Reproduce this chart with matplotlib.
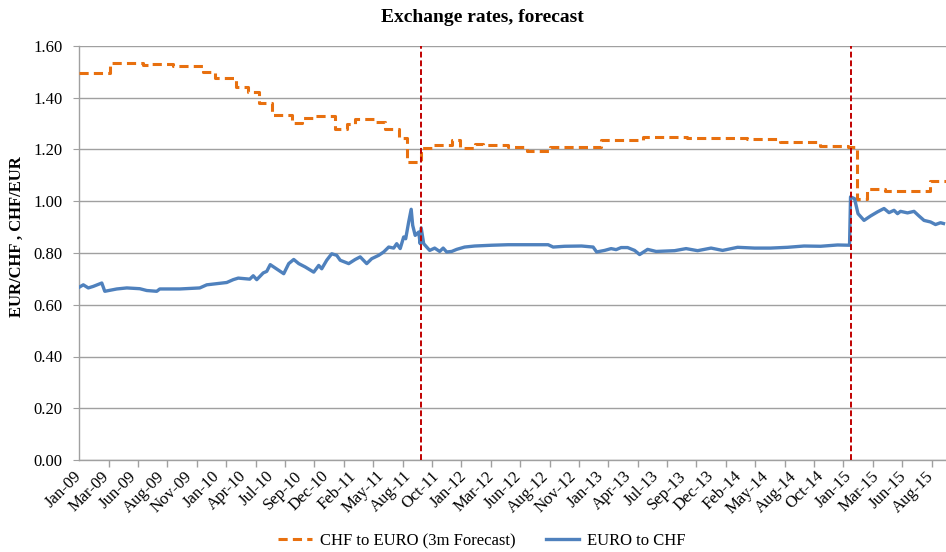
import matplotlib

matplotlib.use("Agg")
import matplotlib.pyplot as plt

# x positions are daily observation numbers counted from the first day of Jan-09
TICK_LABELS = [
    "Jan-09", "Mar-09", "Jun-09", "Aug-09", "Nov-09", "Jan-10", "Apr-10", "Jul-10",
    "Sep-10", "Dec-10", "Feb-11", "May-11", "Aug-11", "Oct-11", "Jan-12", "Mar-12",
    "Jun-12", "Aug-12", "Nov-12", "Jan-13", "Apr-13", "Jul-13", "Sep-13", "Dec-13",
    "Feb-14", "May-14", "Aug-14", "Oct-14", "Jan-15", "Mar-15", "Jun-15", "Aug-15",
]
LABEL_STEP = 55
TICK_STEP = 58.8
N_OBS = 1734

# CHF to EURO, 3 month forecast (step series)
fc_day = [
    0, 61, 127, 141, 187, 247, 271, 313, 337, 359, 385, 425, 445, 471, 511, 535,
    551, 591, 611, 639, 655, 683, 705, 745, 761, 791, 807, 857, 895, 941, 1043,
    1127, 1215, 1335, 1401, 1481, 1537, 1555, 1575, 1611, 1701, 1733,
]
fc_rate = [
    1.497, 1.533, 1.527, 1.532, 1.523, 1.500, 1.478, 1.440, 1.423, 1.378, 1.335,
    1.303, 1.320, 1.329, 1.279, 1.300, 1.317, 1.307, 1.281, 1.243, 1.150, 1.206,
    1.219, 1.236, 1.204, 1.223, 1.219, 1.210, 1.195, 1.210, 1.235, 1.249, 1.243,
    1.239, 1.230, 1.215, 1.208, 1.007, 1.046, 1.041, 1.080, 1.080,
]

# EURO to CHF, daily
spot_day = [
    0, 8, 18, 28, 45, 51, 75, 95, 121, 135, 155, 161, 201, 241, 255, 295, 308,
    318, 341, 348, 355, 368, 375, 382, 392, 409, 419, 429, 439, 452, 469, 479,
    485, 495, 505, 515, 522, 539, 552, 562, 575, 585, 599, 609, 619, 629, 635,
    642, 649, 653, 659, 664, 667, 672, 679, 682, 684, 689, 695, 701, 711, 721,
    728, 735, 745, 755, 771, 791, 825, 858, 938, 948, 971, 1005, 1028, 1035,
    1051, 1064, 1074, 1084, 1097, 1111, 1121, 1137, 1154, 1191, 1214, 1237,
    1264, 1287, 1317, 1351, 1383, 1417, 1450, 1483, 1517, 1541, 1543, 1551,
    1558, 1570, 1583, 1597, 1610, 1620, 1630, 1637, 1643, 1657, 1670, 1680,
    1690, 1703, 1713, 1723, 1729,
]
spot_rate = [
    0.668, 0.677, 0.665, 0.671, 0.684, 0.652, 0.661, 0.665, 0.662, 0.655, 0.652,
    0.661, 0.661, 0.665, 0.677, 0.686, 0.697, 0.703, 0.699, 0.712, 0.697, 0.723,
    0.729, 0.755, 0.742, 0.720, 0.759, 0.775, 0.759, 0.746, 0.726, 0.752, 0.739,
    0.772, 0.797, 0.791, 0.772, 0.759, 0.775, 0.785, 0.759, 0.778, 0.791, 0.804,
    0.823, 0.819, 0.836, 0.817, 0.862, 0.855, 0.920, 0.969, 0.907, 0.868, 0.881,
    0.836, 0.897, 0.836, 0.823, 0.810, 0.819, 0.806, 0.819, 0.804, 0.806, 0.814,
    0.823, 0.827, 0.830, 0.832, 0.832, 0.823, 0.826, 0.827, 0.823, 0.804, 0.810,
    0.817, 0.813, 0.821, 0.821, 0.810, 0.794, 0.814, 0.806, 0.809, 0.817, 0.809,
    0.819, 0.810, 0.822, 0.819, 0.819, 0.822, 0.827, 0.826, 0.831, 0.830, 1.017,
    1.010, 0.952, 0.926, 0.943, 0.959, 0.972, 0.956, 0.965, 0.952, 0.961, 0.955,
    0.961, 0.943, 0.926, 0.920, 0.910, 0.917, 0.914,
]

# SNB floor introduced (Sep-11) and removed (Jan-15)
event_days = [683, 1543]

ORANGE = "#E8700F"
BLUE = "#4F81BD"
GRID = "#A0A0A0"


def main():
    plt.rcParams["font.family"] = ["Liberation Serif", "DejaVu Serif"]

    fig = plt.figure(figsize=(9.46, 5.52), dpi=100)
    ax = fig.add_axes([79.3 / 946, 92 / 552, 1 - 79.3 / 946, 414 / 552])

    ax.plot(fc_day, fc_rate, color=ORANGE, lw=2.2, ls=(0, (3.0, 1.7)),
            drawstyle="steps-post", label="CHF to EURO (3m Forecast)", zorder=3)
    ax.plot(spot_day, spot_rate, color=BLUE, lw=2.4,
            label="EURO to CHF", zorder=4)
    for d in event_days:
        ax.axvline(d, color="#C00000", lw=1.4, ls=(0, (3, 1.5)), zorder=5)

    ax.set_xlim(0, N_OBS)
    ax.set_ylim(0, 1.6)
    ax.set_yticks([i * 0.2 for i in range(9)])
    ax.set_yticklabels([f"{i * 0.2:.2f}" for i in range(9)], fontsize=12)
    ax.yaxis.grid(True, color=GRID, lw=1.0)
    ax.set_axisbelow(True)
    ax.tick_params(axis="y", length=4, color=GRID, pad=8)

    ax.set_xticks([i * LABEL_STEP for i in range(len(TICK_LABELS))])
    ax.set_xticklabels(TICK_LABELS, fontsize=12, rotation=45, ha="right",
                       va="center", rotation_mode="anchor")
    ax.tick_params(axis="x", which="major", length=0, pad=10)
    n_ticks = int(N_OBS // TICK_STEP) + 1
    ax.set_xticks([i * TICK_STEP for i in range(n_ticks)], minor=True)
    ax.tick_params(axis="x", which="minor", length=5, color=GRID, width=1.0)

    for side in ["top", "right"]:
        ax.spines[side].set_visible(False)
    for side in ["left", "bottom"]:
        ax.spines[side].set_color(GRID)
        ax.spines[side].set_linewidth(1.0)

    fig.text(482 / 946, 1 - 17 / 552, "Exchange rates, forecast", ha="center",
             va="center", fontsize=14, fontweight="bold")
    fig.text(17 / 946, 1 - 237 / 552, "EUR/CHF , CHF/EUR", rotation=90,
             ha="center", va="center", fontsize=12, fontweight="bold")

    fig.legend(loc="center", bbox_to_anchor=(482 / 946, 11 / 552), ncol=2,
               frameon=False, fontsize=12, handlelength=2.0,
               columnspacing=1.8, handletextpad=0.5)

    fig.savefig("out.png", dpi=100)


if __name__ == "__main__":
    main()
